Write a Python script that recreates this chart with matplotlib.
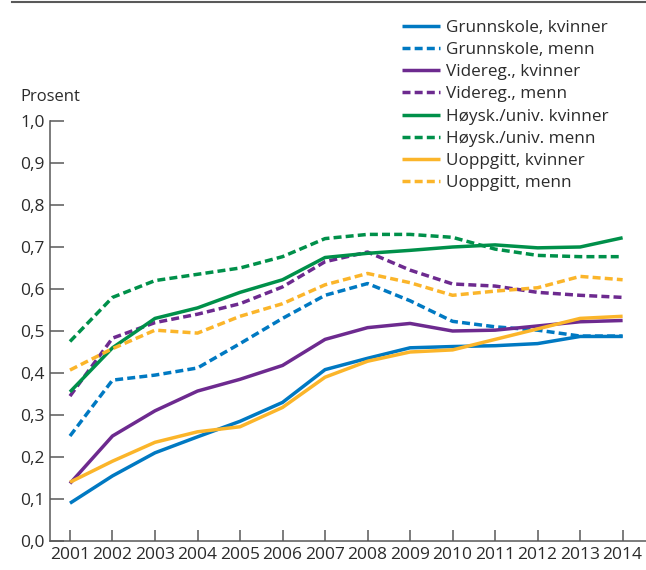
from matplotlib import pyplot as plt
from matplotlib.lines import Line2D
from matplotlib.ticker import FuncFormatter

# Andel per år etter utdanning og kjønn

years = list(range(2001, 2015))

grunnskole_kvinner = [0.090, 0.155, 0.210, 0.248, 0.285, 0.330, 0.408, 0.435, 0.460, 0.463, 0.465, 0.470, 0.487, 0.487]
grunnskole_menn = [0.250, 0.383, 0.395, 0.412, 0.470, 0.530, 0.585, 0.613, 0.572, 0.523, 0.510, 0.502, 0.488, 0.488]
videreg_kvinner = [0.137, 0.250, 0.310, 0.357, 0.385, 0.418, 0.480, 0.508, 0.518, 0.500, 0.502, 0.512, 0.522, 0.525]
videreg_menn = [0.345, 0.483, 0.520, 0.540, 0.565, 0.605, 0.665, 0.688, 0.645, 0.612, 0.607, 0.592, 0.585, 0.580]
hoysk_kvinner = [0.355, 0.460, 0.530, 0.555, 0.592, 0.622, 0.675, 0.685, 0.692, 0.700, 0.705, 0.698, 0.700, 0.722]
hoysk_menn = [0.475, 0.580, 0.620, 0.635, 0.650, 0.677, 0.720, 0.730, 0.730, 0.723, 0.695, 0.680, 0.677, 0.677]
uoppgitt_kvinner = [0.140, 0.190, 0.235, 0.260, 0.272, 0.318, 0.390, 0.428, 0.450, 0.455, 0.480, 0.505, 0.530, 0.535]
uoppgitt_menn = [0.407, 0.458, 0.502, 0.495, 0.535, 0.565, 0.610, 0.637, 0.615, 0.585, 0.595, 0.603, 0.630, 0.622]

labels = ['Grunnskole, kvinner', 'Grunnskole, menn',
          'Videreg., kvinner', 'Videreg., menn',
          'Høysk./univ. kvinner', 'Høysk./univ. menn',
          'Uoppgitt, kvinner', 'Uoppgitt, menn']
series = [grunnskole_kvinner, grunnskole_menn, videreg_kvinner, videreg_menn,
          hoysk_kvinner, hoysk_menn, uoppgitt_kvinner, uoppgitt_menn]
colors = ['#0079c2', '#0079c2', '#6d2a8f', '#6d2a8f',
          '#00904a', '#00904a', '#fbb52a', '#fbb52a']

plt.rcParams['font.family'] = ['Open Sans', 'DejaVu Sans']
plt.rcParams['font.size'] = 12
grey = '#595959'
txt = '#2b2b2b'

fig = plt.figure(figsize=(6.46, 5.70), dpi=100)
ax = fig.add_axes([50 / 646, 29 / 570, 596 / 646, 420 / 570])

for i, (vals, lab, col) in enumerate(zip(series, labels, colors)):
    if i % 2 == 0:
        ax.plot(years, vals, color=col, lw=2.5, label=lab, solid_capstyle='butt')
    else:
        ax.plot(years, vals, color=col, lw=2.5, label=lab, dashes=(2.3, 1.2))

ax.set_xlim(2000.53, 2014.55)
ax.set_ylim(0, 1.0)
ax.set_xticks(years)
ax.set_yticks([i / 10 for i in range(11)])
ax.yaxis.set_major_formatter(FuncFormatter(lambda v, p: ('%.1f' % v).replace('.', ',')))

for s in ['top', 'right']:
    ax.spines[s].set_visible(False)
for s in ['left', 'bottom']:
    ax.spines[s].set_color(grey)
    ax.spines[s].set_linewidth(1.1)
ax.tick_params(axis='y', direction='in', length=10, width=1.1, color=grey, pad=4, labelsize=12.5, labelcolor=txt)
ax.tick_params(axis='x', direction='in', length=8, width=1.1, color=grey, pad=4, labelsize=12.5, labelcolor=txt)

fig.text(20 / 646, 1 - 97 / 570, 'Prosent', ha='left', va='center', fontsize=12, color=txt)

fig.legend(loc='upper left', bbox_to_anchor=(402 / 646, 1 - 20 / 570), frameon=False,
           handlelength=2.2, handletextpad=0.4, labelspacing=0.36, borderpad=0,
           borderaxespad=0, fontsize=12.3, labelcolor=txt)

fig.add_artist(Line2D([12 / 646, 1], [1 - 1.5 / 570, 1 - 1.5 / 570], color=grey, lw=1.5))

plt.savefig('out.png', dpi=100)
